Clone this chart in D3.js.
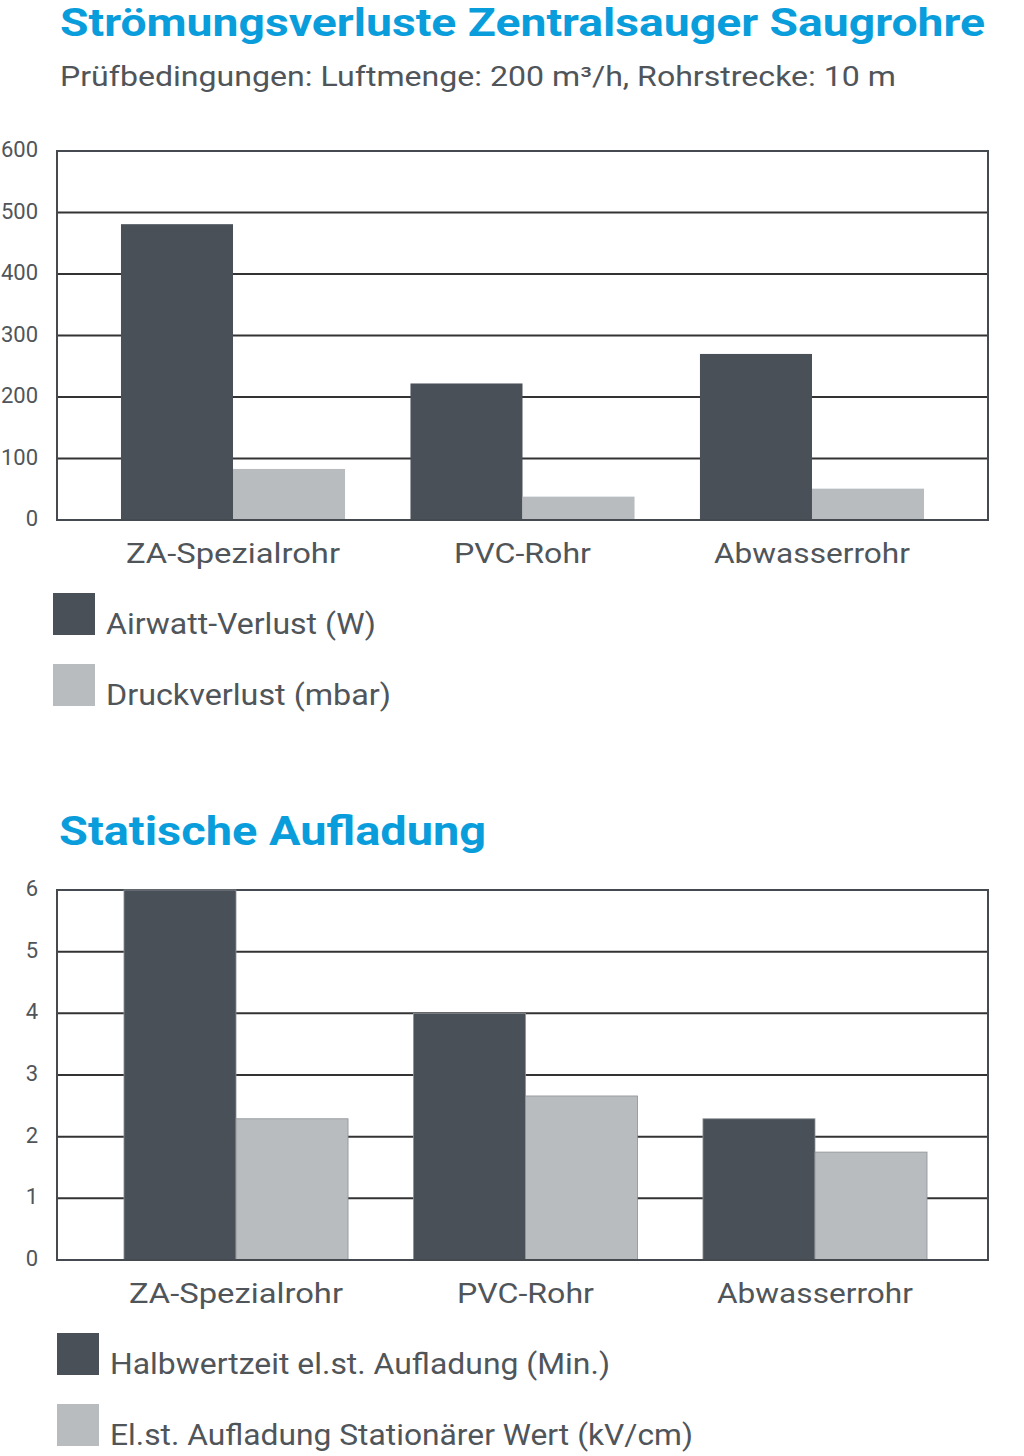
<!DOCTYPE html>
<html>
<head>
<meta charset="utf-8">
<script src="https://cdn.jsdelivr.net/npm/d3@7"></script>
<style>
  html, body { margin: 0; padding: 0; background: #fff; }
  svg { display: block; }
  text { font-family: Roboto, "DejaVu Sans", sans-serif; }
</style>
</head>
<body>
<svg id="chart" width="1024" height="1456"></svg>
<script>
// ---------- data ----------
const categories = ["ZA-Spezialrohr", "PVC-Rohr", "Abwasserrohr"];

const title1 = "Strömungsverluste Zentralsauger Saugrohre";
const subtitle1 = "Prüfbedingungen: Luftmenge: 200 m³/h, Rohrstrecke: 10 m";
const seriesNames1 = ["Airwatt-Verlust (W)", "Druckverlust (mbar)"];
const airwattLoss = [481, 222, 270];
const pressureLoss = [83, 38, 51];
const ticks1 = [0, 100, 200, 300, 400, 500, 600];

const title2 = "Statische Aufladung";
const seriesNames2 = ["Halbwertzeit el.st. Aufladung (Min.)", "El.st. Aufladung Stationärer Wert (kV/cm)"];
const halfLife = [6.0, 4.0, 2.29];
const staticCharge = [2.29, 2.66, 1.75];
const ticks2 = [0, 1, 2, 3, 4, 5, 6];

// ---------- styles ----------
const BLUE = "#0a9ddb";
const TEXT = "#50555a";
const DARK = "#4a5058";
const LIGHT = "#b9bcbf";
const GRID = "#333333";
const labelWidths = [214, 137, 196];

const svg = d3.select("#chart");

function fitText(sel, width) {
  sel.attr("textLength", width).attr("lengthAdjust", "spacingAndGlyphs");
}

// titles
fitText(svg.append("text").attr("x", 60).attr("y", 36)
  .attr("font-size", 38).attr("font-weight", 700).attr("fill", BLUE).text(title1), 925);
fitText(svg.append("text").attr("x", 60).attr("y", 86)
  .attr("font-size", 27).attr("fill", TEXT).text(subtitle1), 836);
fitText(svg.append("text").attr("x", 59).attr("y", 845)
  .attr("font-size", 40).attr("font-weight", 700).attr("fill", BLUE).text(title2), 427);

function drawChart(cfg) {
  const g = svg.append("g");
  const y = d3.scaleLinear().domain([0, d3.max(cfg.ticks)]).range([cfg.bottom, cfg.top]);
  const x = d3.scaleBand().domain(categories).range(cfg.xRange)
    .paddingInner(0.226).paddingOuter(0.221);
  const xs = d3.scaleBand().domain([0, 1]).range([0, x.bandwidth()]);

  // gridlines
  g.append("g").selectAll("line").data(cfg.ticks.filter(t => t > 0)).join("line")
    .attr("x1", cfg.left).attr("x2", cfg.right)
    .attr("y1", d => y(d)).attr("y2", d => y(d))
    .attr("stroke", GRID).attr("stroke-width", 2);

  // frame
  g.append("rect").attr("x", cfg.left).attr("y", cfg.top)
    .attr("width", cfg.right - cfg.left).attr("height", cfg.bottom - cfg.top)
    .attr("fill", "none").attr("stroke", "#444a50").attr("stroke-width", 2);

  // y tick labels
  g.append("g").selectAll("text").data(cfg.ticks).join("text")
    .attr("x", 38).attr("y", d => y(d) + 6)
    .attr("text-anchor", "end").attr("font-size", 22).attr("fill", TEXT)
    .text(d => d);

  // bars
  const series = [cfg.s1, cfg.s2];
  const colors = [DARK, LIGHT];
  series.forEach((vals, si) => {
    g.append("g").selectAll("rect").data(vals).join("rect")
      .attr("x", (d, i) => x(categories[i]) + xs(si))
      .attr("width", xs.bandwidth())
      .attr("y", d => y(d))
      .attr("height", d => cfg.bottom - y(d))
      .attr("fill", colors[si])
      .attr("stroke", cfg.barStroke ? "#8d9297" : "none")
      .attr("stroke-width", cfg.barStroke ? 0.8 : 0);
  });

  // bottom axis line on top
  g.append("line").attr("x1", cfg.left - 1).attr("x2", cfg.right + 1)
    .attr("y1", cfg.bottom).attr("y2", cfg.bottom)
    .attr("stroke", "#444a50").attr("stroke-width", 2);

  // category labels
  g.append("g").selectAll("text").data(categories).join("text")
    .attr("x", d => x(d) + x.bandwidth() / 2)
    .attr("y", cfg.bottom + 43)
    .attr("text-anchor", "middle").attr("font-size", 28).attr("fill", TEXT)
    .attr("textLength", (d, i) => labelWidths[i])
    .attr("lengthAdjust", "spacingAndGlyphs")
    .text(d => d);

  // legend
  cfg.names.forEach((name, i) => {
    const ly = cfg.legendTop + i * 71;
    g.append("rect").attr("x", cfg.legendX).attr("y", ly).attr("width", 42).attr("height", 42)
      .attr("fill", colors[i]);
    fitText(g.append("text").attr("x", cfg.legendX + 53).attr("y", ly + 41)
      .attr("font-size", 29).attr("fill", TEXT).text(name), cfg.legendWidths[i]);
  });
}

drawChart({
  top: 151, bottom: 520, left: 57, right: 988, xRange: [57, 988],
  ticks: ticks1, s1: airwattLoss, s2: pressureLoss, names: seriesNames1,
  legendX: 53, legendTop: 593, legendWidths: [270, 285], barStroke: false
});

drawChart({
  top: 890, bottom: 1260, left: 57, right: 988, xRange: [60, 991],
  ticks: ticks2, s1: halfLife, s2: staticCharge, names: seriesNames2,
  legendX: 57, legendTop: 1333, legendWidths: [500, 583], barStroke: true
});
</script>
</body>
</html>
